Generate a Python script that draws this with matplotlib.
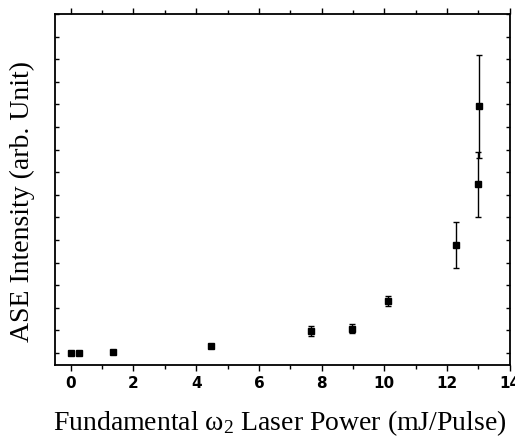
import matplotlib
matplotlib.use("Agg")
import matplotlib.pyplot as plt
from matplotlib.ticker import MultipleLocator

# laser power (mJ/pulse) and ASE intensity (arb.)
power = [0.0, 0.25, 1.36, 4.46, 7.65, 8.96, 10.13, 12.28, 12.97, 13.02]
intensity = [0.0, 0.0, 0.04, 0.31, 0.96, 1.08, 2.30, 4.78, 7.46, 10.91]
err = [0.0, 0.0, 0.0, 0.0, 0.22, 0.21, 0.21, 1.0, 1.42, 2.27]
xticks = [0, 2, 4, 6, 8, 10, 12, 14]

fig = plt.figure(figsize=(5.15, 4.39), dpi=100)
ax = fig.add_axes([0.1068, 0.1663, 0.8832, 0.7995])

ax.errorbar(power, intensity, yerr=err, fmt='s', color='black', ms=5,
            ecolor='black', elinewidth=1.0, capsize=2.5, capthick=1.0)

ax.set_xlim(-0.5, 14)
ax.set_ylim(-0.53, 15.0)
ax.set_xticks(xticks)
ax.set_xticklabels([str(t) for t in xticks], fontweight='heavy',
                   fontsize=11, family='DejaVu Sans')
ax.xaxis.set_minor_locator(MultipleLocator(1))
ax.yaxis.set_major_locator(MultipleLocator(1))
ax.set_yticklabels([])
ax.tick_params(axis='x', which='major', direction='out', length=4, width=1, pad=3)
ax.tick_params(axis='x', which='minor', direction='out', length=3, width=1)
ax.tick_params(axis='x', which='both', top=True)
ax.tick_params(axis='y', which='both', direction='in', length=3, width=1,
               left=True, right=True)
for s in ax.spines.values():
    s.set_linewidth(1.3)

fig.text(0.543, 0.036, r'Fundamental $\mathregular{\omega_2}$ Laser Power (mJ/Pulse)',
         ha='center', va='center', fontsize=20, family='Liberation Serif')
fig.text(0.044, 0.542, 'ASE Intensity (arb. Unit)', rotation=90,
         ha='center', va='center', fontsize=20, family='Liberation Serif')

fig.savefig('out.png', dpi=100)
